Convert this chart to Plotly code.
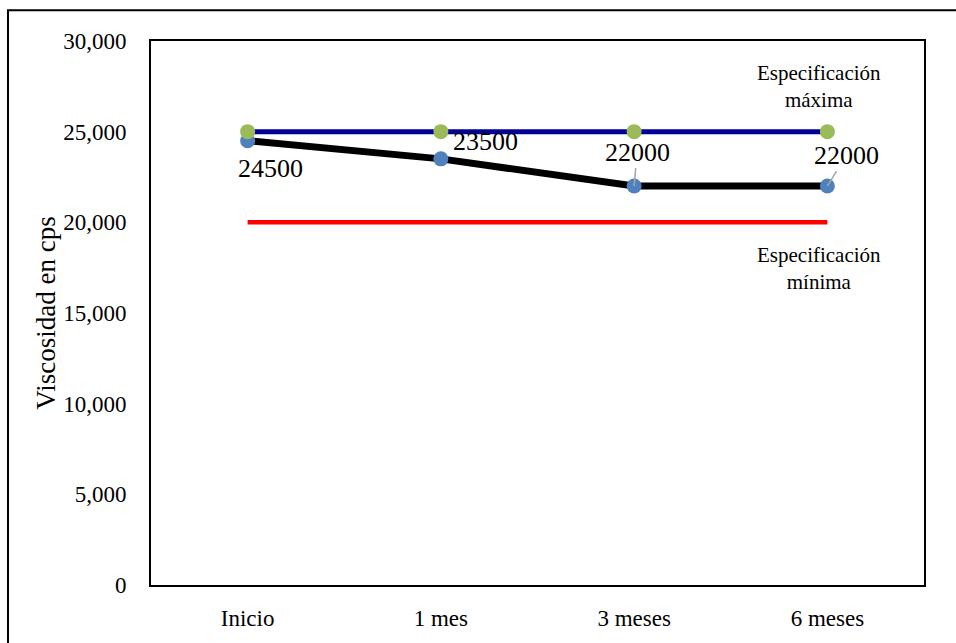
import plotly.graph_objects as go

# Data
periodos = ["Inicio", "1 mes", "3 meses", "6 meses"]
viscosidad = [24500, 23500, 22000, 22000]
spec_max = [25000, 25000, 25000, 25000]
spec_min = [20000, 20000, 20000, 20000]
y_ticks = [0, 5000, 10000, 15000, 20000, 25000, 30000]

FONT = "Times New Roman"

fig = go.Figure()

# Minimum specification (red, no markers)
fig.add_trace(go.Scatter(
    x=periodos, y=spec_min, mode="lines",
    line=dict(color="#FF0000", width=4.5),
    hoverinfo="skip", showlegend=False,
))

# Measured viscosity
fig.add_trace(go.Scatter(
    x=periodos, y=viscosidad, mode="lines+markers",
    line=dict(color="#000000", width=7),
    marker=dict(color="#4F81BD", size=15),
    showlegend=False,
))

# Maximum specification
fig.add_trace(go.Scatter(
    x=periodos, y=spec_max, mode="lines+markers",
    line=dict(color="#000099", width=5),
    marker=dict(color="#9BBB59", size=15),
    showlegend=False,
))

# Data labels for the viscosity series
label_style = [
    dict(showarrow=False, xshift=23, yshift=-28),
    dict(showarrow=False, xshift=45, yshift=17),
    dict(showarrow=True, ax=3, ay=-34),
    dict(showarrow=True, ax=19, ay=-31),
]
for i, (p, v) in enumerate(zip(periodos, viscosidad)):
    st = label_style[i]
    ann = dict(x=i, y=v, xref="x", yref="y", text=str(v),
               font=dict(family=FONT, size=26, color="#000000"))
    if st["showarrow"]:
        ann.update(showarrow=True, ax=st["ax"], ay=st["ay"], arrowhead=0,
                   arrowwidth=1.5, arrowcolor="#A6A6A6", standoff=0)
    else:
        ann.update(showarrow=False, xshift=st["xshift"], yshift=st["yshift"])
    fig.add_annotation(**ann)

# Specification captions
fig.add_annotation(x=3, y=27500, xref="x", yref="y", xshift=-8,
                   text="Especificación<br>máxima", showarrow=False,
                   font=dict(family=FONT, size=21, color="#000000"))
fig.add_annotation(x=3, y=17450, xref="x", yref="y", xshift=-8,
                   text="Especificación<br>mínima", showarrow=False,
                   font=dict(family=FONT, size=21, color="#000000"))

# Outer chart border
fig.add_shape(type="rect", xref="paper", yref="paper",
              x0=-0.185, x1=1.1, y0=-0.2, y1=1.0567,
              line=dict(color="#000000", width=2), fillcolor="rgba(0,0,0,0)",
              layer="below")

fig.update_layout(
    width=956, height=643,
    margin=dict(l=151, r=32, t=41, b=55),
    paper_bgcolor="white", plot_bgcolor="white",
    font=dict(family=FONT, color="#000000"),
    xaxis=dict(
        type="category", range=[-0.5, 3.5],
        showgrid=False, zeroline=False,
        showline=True, linecolor="#000000", linewidth=2, mirror=True,
        ticks="", tickfont=dict(family=FONT, size=23, color="#000000"),
        ticklabelstandoff=11,
    ),
    yaxis=dict(
        range=[0, 30000], tickvals=y_ticks, tickformat=",",
        showgrid=False, zeroline=False,
        showline=True, linecolor="#000000", linewidth=2, mirror=True,
        ticks="", tickfont=dict(family=FONT, size=23, color="#000000"),
        ticklabelstandoff=18,
        title=dict(text="Viscosidad en cps",
                   font=dict(family=FONT, size=27, color="#000000"), standoff=0),
    ),
)

fig.write_html("out.html")
